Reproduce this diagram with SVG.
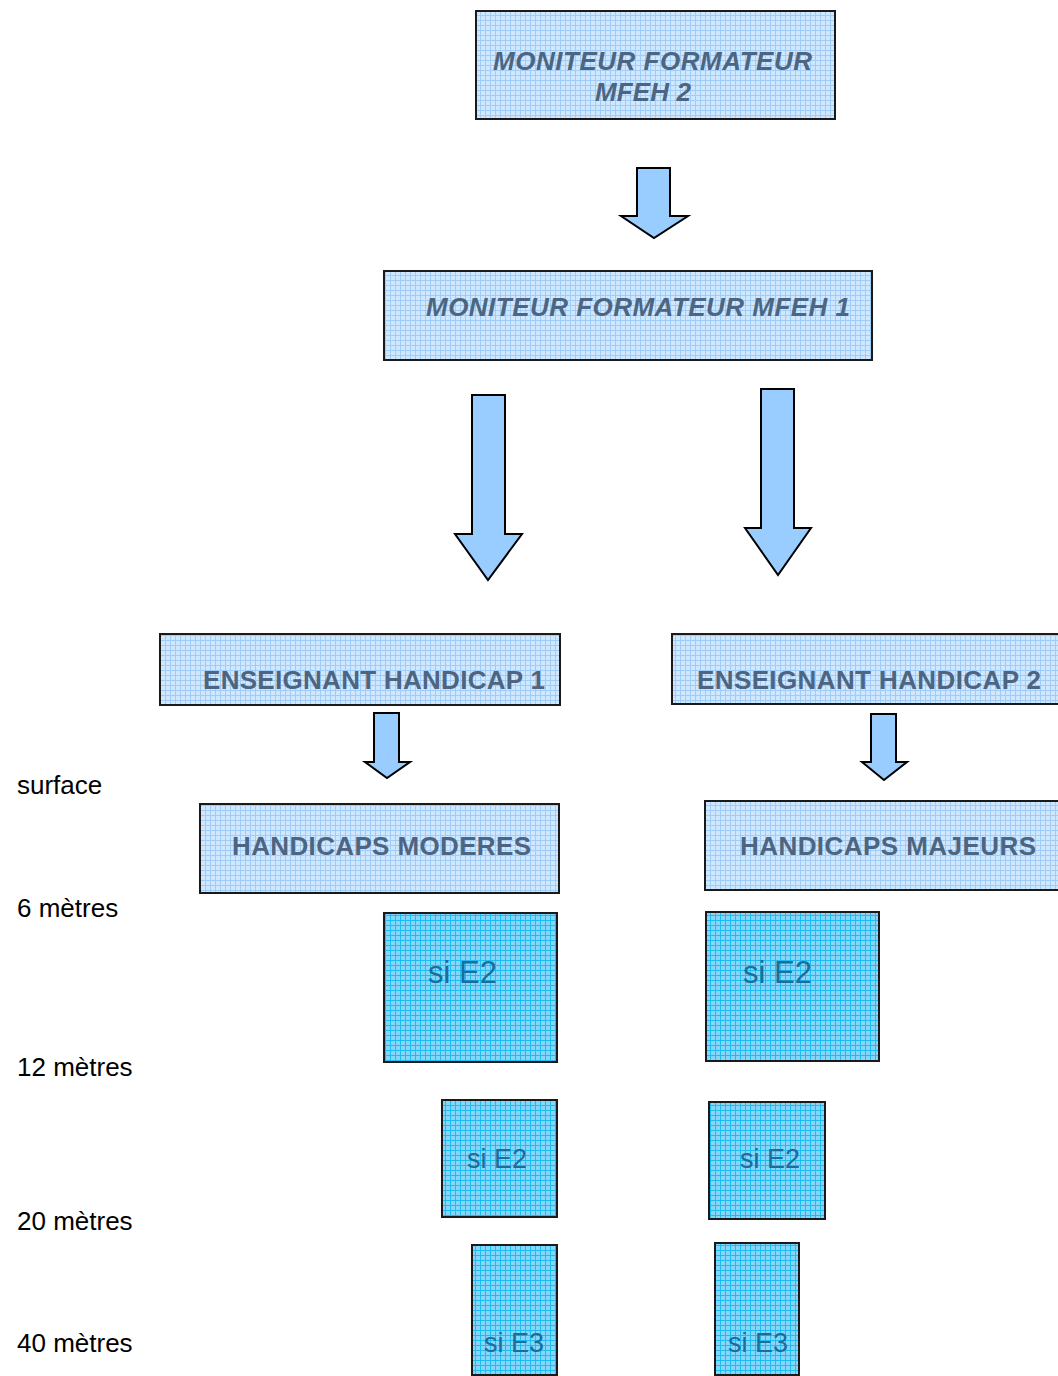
<svg xmlns="http://www.w3.org/2000/svg" width="1058" height="1376" viewBox="0 0 1058 1376">
<defs>
<pattern id="gridL" width="5" height="5" patternUnits="userSpaceOnUse">
<rect width="5" height="5" fill="#cfe7ff"/>
<path d="M0 0.5H5M0.5 0V5" stroke="#9fcdf8" stroke-width="1"/>
</pattern>
<pattern id="gridD" width="5" height="5" patternUnits="userSpaceOnUse">
<rect width="5" height="5" fill="#86d6fb"/>
<path d="M0 0.5H5M0.5 0V5" stroke="#1cbdf0" stroke-width="1"/>
</pattern>
</defs>
<style>
.bl{fill:url(#gridL);stroke:#1a1a1a;stroke-width:2}
.bd{fill:url(#gridD);stroke:#1a1a1a;stroke-width:2}
.tl{font-family:"Liberation Sans",Arial,sans-serif;font-weight:bold;font-size:26px;fill:#4d6580}
.ti{font-style:italic}
.td{font-family:"Liberation Sans",Arial,sans-serif;fill:#1d6d9b}
.lab{font-family:"Liberation Sans",Arial,sans-serif;font-size:26px;fill:#000}
.ar{fill:#99ccff;stroke:#000;stroke-width:2;stroke-linejoin:miter}
</style>
<rect width="1058" height="1376" fill="#fff"/>

<g id="connectors">
<path class="ar" d="M637 168H670V216H688L654 238L621 216H637Z"/>
<path class="ar" d="M472 395H505V534H522L488 580L455 534H472Z"/>
<path class="ar" d="M761 389H794V528H811L778 575L745 528H761Z"/>
<path class="ar" d="M374 713H399V762H410L387 778L365 762H374Z"/>
<path class="ar" d="M871 714H896V762H907L884 780L862 762H871Z"/>
</g>

<g id="mfeh2">
<rect class="bl" x="476" y="11" width="359" height="108"/>
<text class="tl ti" x="493" y="70" textLength="319" lengthAdjust="spacing">MONITEUR FORMATEUR</text>
<text class="tl ti" x="595" y="101" textLength="96" lengthAdjust="spacing">MFEH 2</text>
</g>

<g id="mfeh1">
<rect class="bl" x="384" y="271" width="488" height="89"/>
<text class="tl ti" x="426" y="316" textLength="424" lengthAdjust="spacing">MONITEUR FORMATEUR MFEH 1</text>
</g>

<g id="eh1">
<rect class="bl" x="160" y="634" width="400" height="71"/>
<text class="tl" x="203" y="689" textLength="342" lengthAdjust="spacing">ENSEIGNANT HANDICAP 1</text>
</g>

<g id="eh2">
<rect class="bl" x="672" y="634" width="396" height="70"/>
<text class="tl" x="697" y="689" textLength="344" lengthAdjust="spacing">ENSEIGNANT HANDICAP 2</text>
</g>

<g id="hmod">
<rect class="bl" x="200" y="804" width="359" height="89"/>
<text class="tl" x="232" y="855" textLength="299" lengthAdjust="spacing">HANDICAPS MODERES</text>
</g>

<g id="hmaj">
<rect class="bl" x="705" y="801" width="363" height="89"/>
<text class="tl" x="740" y="855" textLength="296" lengthAdjust="spacing">HANDICAPS MAJEURS</text>
</g>

<g id="l6">
<rect class="bd" x="384" y="913" width="173" height="149"/>
<text class="td" x="428" y="983" font-size="31">si E2</text>
</g>
<g id="r6">
<rect class="bd" x="706" y="912" width="173" height="149"/>
<text class="td" x="743" y="983" font-size="31">si E2</text>
</g>
<g id="l12">
<rect class="bd" x="442" y="1100" width="115" height="117"/>
<text class="td" x="467" y="1168" font-size="27">si E2</text>
</g>
<g id="r12">
<rect class="bd" x="709" y="1102" width="116" height="117"/>
<text class="td" x="740" y="1168" font-size="27">si E2</text>
</g>
<g id="l20">
<rect class="bd" x="472" y="1245" width="85" height="130"/>
<text class="td" x="484" y="1352" font-size="27">si E3</text>
</g>
<g id="r20">
<rect class="bd" x="715" y="1243" width="84" height="132"/>
<text class="td" x="728" y="1352" font-size="27">si E3</text>
</g>

<g id="depths">
<text class="lab" x="17" y="794">surface</text>
<text class="lab" x="17" y="917">6 mètres</text>
<text class="lab" x="17" y="1076">12 mètres</text>
<text class="lab" x="17" y="1230">20 mètres</text>
<text class="lab" x="17" y="1352">40 mètres</text>
</g>
</svg>
